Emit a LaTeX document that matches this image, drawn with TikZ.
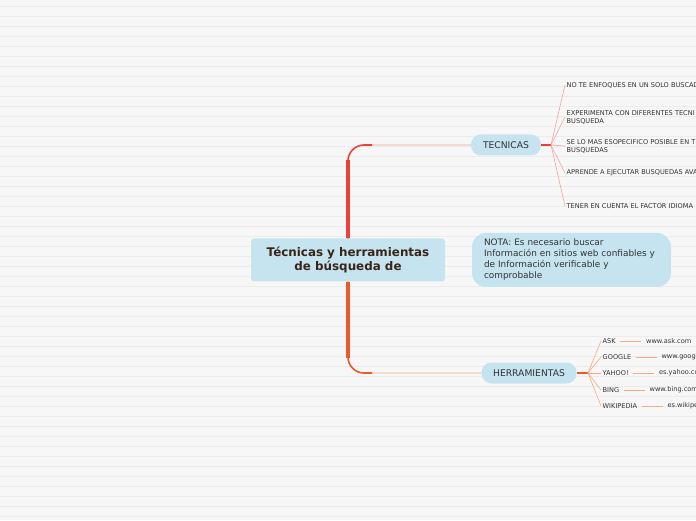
\documentclass[tikz,border=0pt]{standalone}
\usepackage{fontspec}
\setmainfont{DejaVu Sans}
\usetikzlibrary{positioning}
\definecolor{mmbg}{HTML}{F7F7F7}
\definecolor{mmrule}{HTML}{ECECEC}
\definecolor{mmblue}{HTML}{C5E4F0}
\definecolor{mmred}{HTML}{EA4238}
\definecolor{mmorange}{HTML}{EC5A2A}
\definecolor{mmpink}{HTML}{F5A19A}
\definecolor{mmsalmon}{HTML}{F6A888}
\definecolor{mmtext}{HTML}{333333}
\definecolor{mmroot}{HTML}{3A2418}

\tikzset{
  pill/.style={fill=mmblue, rounded corners=10pt, minimum height=21pt, text=mmtext,
               font=\fontsize{9.2}{11}\selectfont, inner sep=0pt},
  leaf/.style={anchor=west, inner sep=1.5pt, text=mmtext, align=left,
               font=\fontsize{6.6}{8}\selectfont},
  twig/.style={line width=0.6pt},
}

\begin{document}
\begin{tikzpicture}[x=1pt, y=1pt]
        % paper
        \fill[mmbg] (0,0) rectangle (696,520);
        \useasboundingbox (0,0) rectangle (696,520);
        \clip (0,0) rectangle (696,520);
        \foreach \yy in {4,14,...,514}
            \draw[mmrule, line width=0.8pt] (0,\yy) -- (696,\yy);

        % main topics
        \node[fill=mmblue, rounded corners=3pt, minimum width=194pt, minimum height=43pt,
              text=mmroot, align=center, font=\fontsize{11.9}{14}\selectfont\bfseries]
              (root) at (348,260) {Técnicas y herramientas\\de búsqueda de};
        \node[pill, minimum width=70pt] (tecnicas) at (506,375) {TECNICAS};
        \node[pill, minimum width=95pt] (herramientas) at (529,147) {HERRAMIENTAS};
        \node[fill=mmblue, rounded corners=14pt, minimum width=199pt, minimum height=54pt,
              text width=175pt, align=left, text=mmtext, font=\fontsize{8.9}{11}\selectfont]
              (nota) at (571.5,260) {NOTA: Es necesario buscar\\Información en sitios web confiables y\\de Información verificable y\\comprobable};

        % trunk to TECNICAS
        \draw[twig, mmpink, rounded corners=16pt] (root.north) |- (tecnicas.west);
        \draw[mmred, line width=1.6pt, rounded corners=16pt] (root.north) |- ([xshift=24pt]root.north |- tecnicas.west);
        \draw[mmred, line width=3.6pt] (root.north) -- ([yshift=-15pt]root.north |- tecnicas.west);

        % trunk to HERRAMIENTAS
        \draw[twig, mmsalmon, rounded corners=16pt] (root.south) |- (herramientas.west);
        \draw[mmorange, line width=1.6pt, rounded corners=16pt] (root.south) |- ([xshift=24pt]root.south |- herramientas.west);
        \draw[mmorange, line width=3.6pt] (root.south) -- ([yshift=15pt]root.south |- herramientas.west);

        % TECNICAS leaves
        \coordinate (tj) at (551,375);
        \node[leaf] (t1) at (565,435) {NO TE ENFOQUES EN UN SOLO BUSCAD};
        \node[leaf] (t2) at (565,403) {EXPERIMENTA CON DIFERENTES TECNI\\BUSQUEDA};
        \node[leaf] (t3) at (565,374) {SE LO MAS ESOPECIFICO POSIBLE EN T\\BUSQUEDAS};
        \node[leaf] (t4) at (565,347) {APRENDE A EJECUTAR BUSQUEDAS AVA};
        \node[leaf] (t5) at (565,314) {TENER EN CUENTA EL FACTOR IDIOMA};
        \draw[mmred, line width=1.8pt] (tecnicas.east) -- (tj);
        \foreach \t in {t1,t2,t3,t4,t5}
            \draw[twig, mmpink] (tj) -- (\t.west);

        % HERRAMIENTAS leaves
        \coordinate (hj) at (588,147);
        \node[leaf] (ask) at (601,179) {ASK};
        \node[leaf] (google) at (601,163) {GOOGLE};
        \node[leaf] (yahoo) at (601,147) {YAHOO!};
        \node[leaf] (bing) at (601,130) {BING};
        \node[leaf] (wiki) at (601,114) {WIKIPEDIA};
        \node[leaf, right=27pt of ask] (askurl) {www.ask.com};
        \node[leaf, right=27pt of google] (googleurl) {www.googl};
        \node[leaf, right=27pt of yahoo] (yahoourl) {es.yahoo.co};
        \node[leaf, right=27pt of bing] (bingurl) {www.bing.com};
        \node[leaf, right=27pt of wiki] (wikiurl) {es.wikipe};
        \draw[mmorange, line width=1.8pt] (herramientas.east) -- (hj);
        \foreach \h in {ask,google,yahoo,bing,wiki} {
            \draw[twig, mmsalmon] (hj) -- (\h.west);
            \draw[twig, mmsalmon, shorten <=3pt, shorten >=3pt] (\h.east) -- (\h url.west);
        }
\end{tikzpicture}
\end{document}
